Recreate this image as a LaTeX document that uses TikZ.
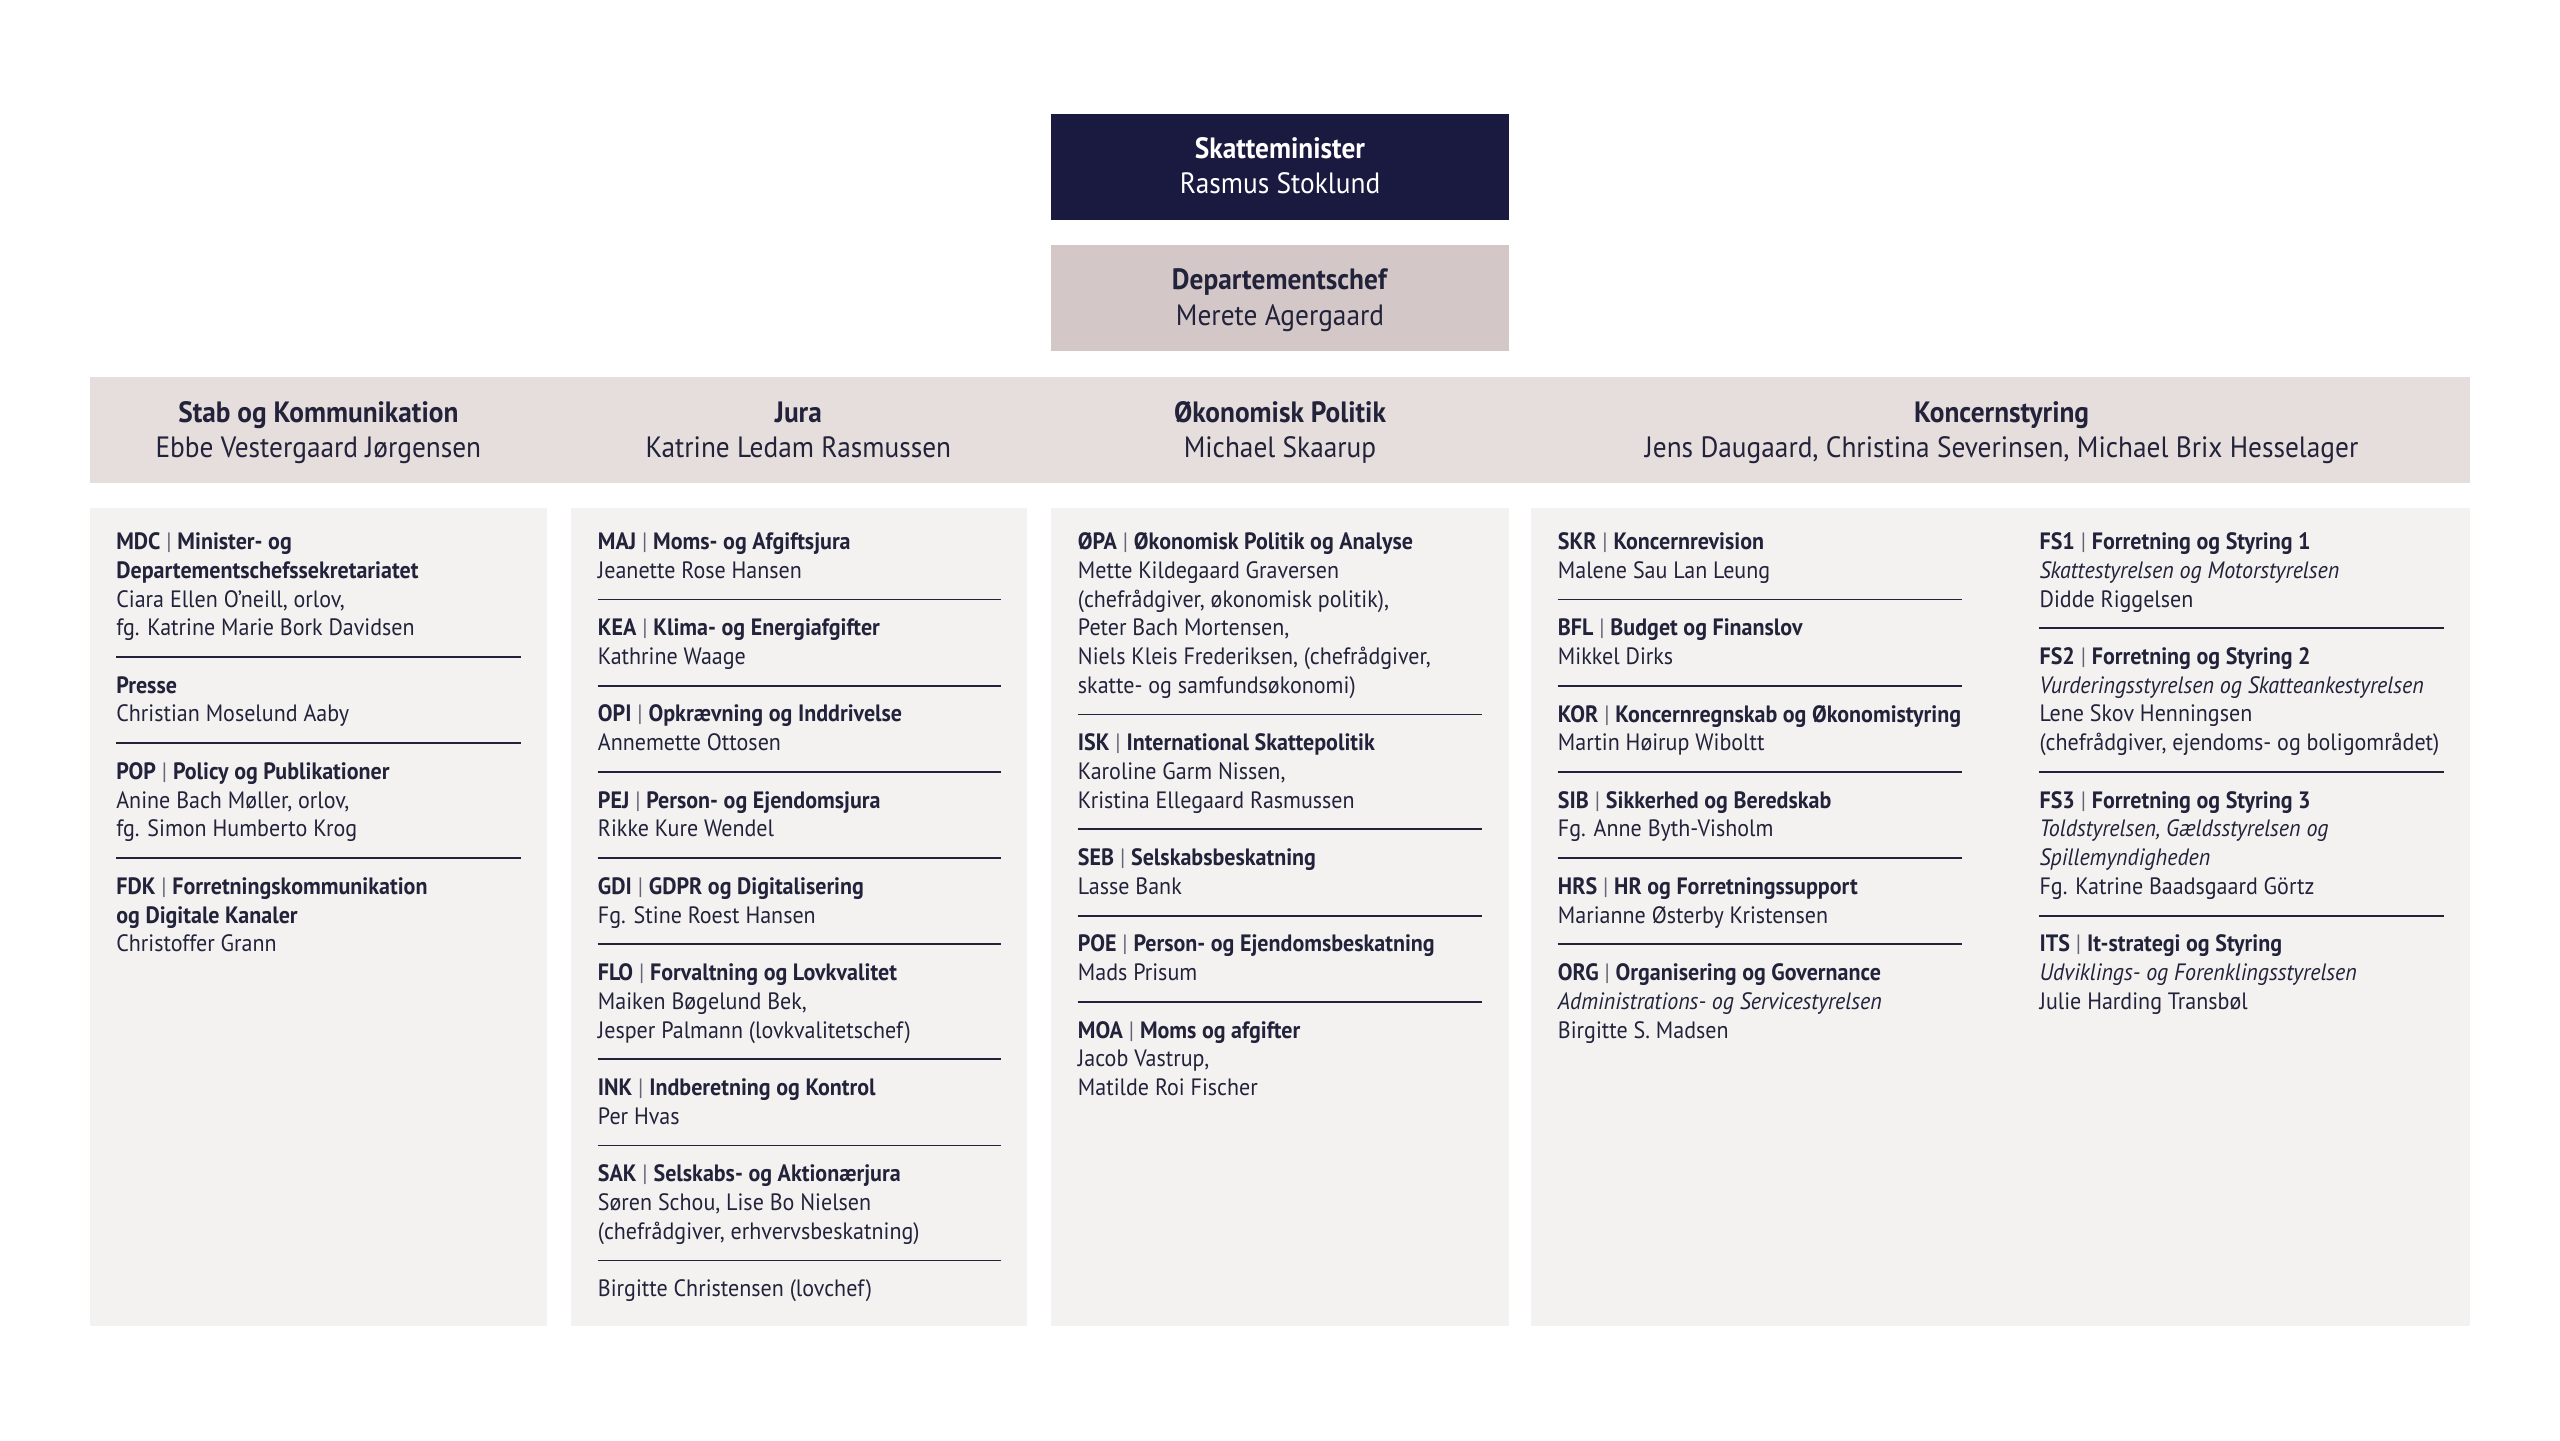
\documentclass[tikz,border=0pt]{standalone}
\usepackage{fontspec}
\setmainfont{PT Sans}[FakeStretch=0.93]
\definecolor{navy}{HTML}{1A1A40}
\definecolor{txt}{HTML}{22223A}
\definecolor{chef}{HTML}{D3C8C7}
\definecolor{band}{HTML}{E6DEDD}
\definecolor{colbg}{HTML}{F3F2F1}
\newcommand\unitt[2]{\textbf{#1} {\color{txt!70}|} \textbf{#2}}
\newcommand\hdtext[2]{\strut\textbf{#1}\\\strut #2}
\tikzset{
  box/.style={inner sep=0pt, outer sep=0pt},
  ent/.style={anchor=north west, inner sep=0pt, align=left, text=txt, font=\fontsize{11.6}{14.08}\selectfont},
  hd/.style={align=center, text=txt, inner sep=0pt, font=\fontsize{14.4}{17.4}\selectfont},
  sep/.style={draw=txt, line width=0.9pt}
}
\begin{document}
\begin{tikzpicture}[x=0.8pt,y=-0.8pt]
\fill[white] (0,0) rectangle (1568,882);
\useasboundingbox (0,0) rectangle (1568,882);
% top boxes
\fill[navy] (644,70) rectangle (924,135);
\node[hd, text=white] (min) at (784,103.5) {\hdtext{Skatteminister}{Rasmus Stoklund}};
\fill[chef] (644,150) rectangle (924,215);
\node[hd] (dep) at (784,184) {\hdtext{Departementschef}{Merete Agergaard}};
\fill[band] (55,231) rectangle (1513,296);
\node[hd] (h1) at (195,265) {\hdtext{Stab og Kommunikation}{Ebbe Vestergaard Jørgensen}};
\node[hd] (h2) at (489,265) {\hdtext{Jura}{Katrine Ledam Rasmussen}};
\node[hd] (h3) at (784,265) {\hdtext{Økonomisk Politik}{Michael Skaarup}};
\node[hd] (h4) at (1226,265) {\hdtext{Koncernstyring}{Jens Daugaard, Christina Severinsen, Michael Brix Hesselager}};
% columns
\fill[colbg] (55,311) rectangle (335,812);
\fill[colbg] (350,311) rectangle (629,812);
\fill[colbg] (644,311) rectangle (924,812);
\fill[colbg] (938,311) rectangle (1513,812);
\def\Y#1{\fpeval{332+17.6*(#1)-6}}
\def\S#1{\fpeval{332+17.6*(#1)}}
% column 1
\node[ent] (mdc) at (71,\Y{0}) {\unitt{MDC}{Minister- og}\\\textbf{Departementschefssekretariatet}\\Ciara Ellen O’neill, orlov,\\fg. Katrine Marie Bork Davidsen};
\draw[sep] (71,\S{4}) -- (319,\S{4});
\node[ent] (pre) at (71,\Y{5}) {\textbf{Presse}\\Christian Moselund Aaby};
\draw[sep] (71,\S{7}) -- (319,\S{7});
\node[ent] (pop) at (71,\Y{8}) {\unitt{POP}{Policy og Publikationer}\\Anine Bach Møller, orlov,\\fg. Simon Humberto Krog};
\draw[sep] (71,\S{11}) -- (319,\S{11});
\node[ent] (fdk) at (71,\Y{12}) {\unitt{FDK}{Forretningskommunikation}\\\textbf{og Digitale Kanaler}\\Christoffer Grann};
% column 2
\node[ent] (maj) at (366,\Y{0}) {\unitt{MAJ}{Moms- og Afgiftsjura}\\Jeanette Rose Hansen};
\draw[sep] (366,\S{2}) -- (613,\S{2});
\node[ent] (kea) at (366,\Y{3}) {\unitt{KEA}{Klima- og Energiafgifter}\\Kathrine Waage};
\draw[sep] (366,\S{5}) -- (613,\S{5});
\node[ent] (opi) at (366,\Y{6}) {\unitt{OPI}{Opkrævning og Inddrivelse}\\Annemette Ottosen};
\draw[sep] (366,\S{8}) -- (613,\S{8});
\node[ent] (pej) at (366,\Y{9}) {\unitt{PEJ}{Person- og Ejendomsjura}\\Rikke Kure Wendel};
\draw[sep] (366,\S{11}) -- (613,\S{11});
\node[ent] (gdi) at (366,\Y{12}) {\unitt{GDI}{GDPR og Digitalisering}\\Fg. Stine Roest Hansen};
\draw[sep] (366,\S{14}) -- (613,\S{14});
\node[ent] (flo) at (366,\Y{15}) {\unitt{FLO}{Forvaltning og Lovkvalitet}\\Maiken Bøgelund Bek,\\Jesper Palmann (lovkvalitetschef)};
\draw[sep] (366,\S{18}) -- (613,\S{18});
\node[ent] (ink) at (366,\Y{19}) {\unitt{INK}{Indberetning og Kontrol}\\Per Hvas};
\draw[sep] (366,\S{21}) -- (613,\S{21});
\node[ent] (sak) at (366,\Y{22}) {\unitt{SAK}{Selskabs- og Aktionærjura}\\Søren Schou, Lise Bo Nielsen\\(chefrådgiver, erhvervsbeskatning)};
\draw[sep] (366,\S{25}) -- (613,\S{25});
\node[ent] (lov) at (366,\Y{26}) {Birgitte Christensen (lovchef)};
% column 3
\node[ent] (opa) at (660,\Y{0}) {\unitt{ØPA}{Økonomisk Politik og Analyse}\\Mette Kildegaard Graversen\\(chefrådgiver, økonomisk politik),\\Peter Bach Mortensen,\\Niels Kleis Frederiksen, (chefrådgiver,\\skatte- og samfundsøkonomi)};
\draw[sep] (660,\S{6}) -- (908,\S{6});
\node[ent] (isk) at (660,\Y{7}) {\unitt{ISK}{International Skattepolitik}\\Karoline Garm Nissen,\\Kristina Ellegaard Rasmussen};
\draw[sep] (660,\S{10}) -- (908,\S{10});
\node[ent] (seb) at (660,\Y{11}) {\unitt{SEB}{Selskabsbeskatning}\\Lasse Bank};
\draw[sep] (660,\S{13}) -- (908,\S{13});
\node[ent] (poe) at (660,\Y{14}) {\unitt{POE}{Person- og Ejendomsbeskatning}\\Mads Prisum};
\draw[sep] (660,\S{16}) -- (908,\S{16});
\node[ent] (moa) at (660,\Y{17}) {\unitt{MOA}{Moms og afgifter}\\Jacob Vastrup,\\Matilde Roi Fischer};
% column 4a
\node[ent] (skr) at (954,\Y{0}) {\unitt{SKR}{Koncernrevision}\\Malene Sau Lan Leung};
\draw[sep] (954,\S{2}) -- (1202,\S{2});
\node[ent] (bfl) at (954,\Y{3}) {\unitt{BFL}{Budget og Finanslov}\\Mikkel Dirks};
\draw[sep] (954,\S{5}) -- (1202,\S{5});
\node[ent] (kor) at (954,\Y{6}) {\unitt{KOR}{Koncernregnskab og Økonomistyring}\\Martin Høirup Wiboltt};
\draw[sep] (954,\S{8}) -- (1202,\S{8});
\node[ent] (sib) at (954,\Y{9}) {\unitt{SIB}{Sikkerhed og Beredskab}\\Fg. Anne Byth-Visholm};
\draw[sep] (954,\S{11}) -- (1202,\S{11});
\node[ent] (hrs) at (954,\Y{12}) {\unitt{HRS}{HR og Forretningssupport}\\Marianne Østerby Kristensen};
\draw[sep] (954,\S{14}) -- (1202,\S{14});
\node[ent] (org) at (954,\Y{15}) {\unitt{ORG}{Organisering og Governance}\\\textit{Administrations- og Servicestyrelsen}\\Birgitte S. Madsen};
% column 4b
\node[ent] (fs1) at (1249,\Y{0}) {\unitt{FS1}{Forretning og Styring 1}\\\textit{Skattestyrelsen og Motorstyrelsen}\\Didde Riggelsen};
\draw[sep] (1249,\S{3}) -- (1497,\S{3});
\node[ent] (fs2) at (1249,\Y{4}) {\unitt{FS2}{Forretning og Styring 2}\\\textit{Vurderingsstyrelsen og Skatteankestyrelsen}\\Lene Skov Henningsen\\(chefrådgiver, ejendoms- og boligområdet)};
\draw[sep] (1249,\S{8}) -- (1497,\S{8});
\node[ent] (fs3) at (1249,\Y{9}) {\unitt{FS3}{Forretning og Styring 3}\\\textit{Toldstyrelsen, Gældsstyrelsen og}\\\textit{Spillemyndigheden}\\Fg. Katrine Baadsgaard Görtz};
\draw[sep] (1249,\S{13}) -- (1497,\S{13});
\node[ent] (its) at (1249,\Y{14}) {\unitt{ITS}{It-strategi og Styring}\\\textit{Udviklings- og Forenklingsstyrelsen}\\Julie Harding Transbøl};
\end{tikzpicture}
\end{document}
